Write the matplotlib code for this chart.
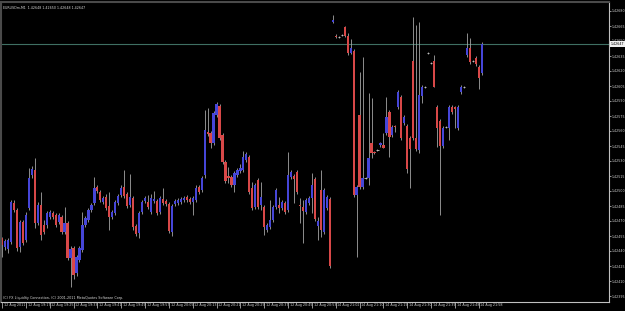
import numpy as np
import matplotlib
matplotlib.use("Agg")
import matplotlib.pyplot as plt
import matplotlib.transforms as mtransforms

# EURUSDm M1 bars, 12 Aug 19:09 -> 14 Aug
opens = [
    1.42453, 1.42444, 1.42442, 1.42449, 1.42488, 1.42481, 1.42444, 1.42469, 1.42451, 1.42483,
    1.42516, 1.42521, 1.42468, 1.42486, 1.42466, 1.42466, 1.42474, 1.42478, 1.42476, 1.42469,
    1.42474, 1.42459, 1.42468, 1.42433, 1.42443, 1.42418, 1.42431, 1.42441, 1.42466, 1.42471,
    1.42481, 1.42488, 1.42504, 1.42499, 1.42489, 1.42494, 1.42485, 1.42474, 1.42478, 1.42488,
    1.42496, 1.42504, 1.42497, 1.42486, 1.42493, 1.42465, 1.42458, 1.42479, 1.42490, 1.42489,
    1.42479, 1.42490, 1.42490, 1.42479, 1.42492, 1.42490, 1.42487, 1.42459, 1.42487, 1.42488,
    1.42489, 1.42491, 1.42494, 1.42492, 1.42489, 1.42491, 1.42504, 1.42501, 1.42516, 1.42559,
    1.42558, 1.42548, 1.42576, 1.42585, 1.42556, 1.42529, 1.42515, 1.42514, 1.42506, 1.42516,
    1.42520, 1.42521, 1.42531, 1.42534, 1.42503, 1.42484, 1.42511, 1.42486, 1.42484, 1.42461,
    1.42464, 1.42471, 1.42484, 1.42486, 1.42483, 1.42488, 1.42481, 1.42514, 1.42515, 1.42519,
    1.42486, 1.42484, 1.42479, 1.42488, 1.42493, 1.42512, 1.42465, 1.42501, 1.42459, 1.42483,
    1.42492, 1.42669, 1.42655, 1.42654, 1.42656, 1.42664, 1.42655, 1.42638, 1.42640, 1.42496,
    1.42576, 1.42504, 1.42513, 1.42513, 1.42548, 1.42539, 1.42541, 1.42546, 1.42546, 1.42558,
    1.42579, 1.42556, 1.42565, 1.42584, 1.42594, 1.42568, 1.42565, 1.42553, 1.42630, 1.42553,
    1.42541, 1.42595, 1.42604, 1.42638, 1.42628, 1.42630, 1.42584, 1.42570, 1.42545, 1.42564,
    1.42563, 1.42584, 1.42584, 1.42563, 1.42599, 1.42604, 1.42636, 1.42643, 1.42630, 1.42633,
    1.42624, 1.42618,
]
highs = [
    1.42454, 1.42452, 1.42453, 1.42491, 1.42491, 1.42483, 1.42471, 1.42471, 1.42479, 1.42523,
    1.42525, 1.42533, 1.42489, 1.42499, 1.42471, 1.42480, 1.42481, 1.42480, 1.42478, 1.42478,
    1.42476, 1.42484, 1.42470, 1.42445, 1.42445, 1.42436, 1.42445, 1.42479, 1.42475, 1.42483,
    1.42488, 1.42514, 1.42506, 1.42501, 1.42495, 1.42497, 1.42499, 1.42481, 1.42491, 1.42497,
    1.42506, 1.42521, 1.42499, 1.42517, 1.42495, 1.42467, 1.42480, 1.42491, 1.42495, 1.42496,
    1.42497, 1.42500, 1.42492, 1.42495, 1.42503, 1.42492, 1.42489, 1.42487, 1.42492, 1.42493,
    1.42494, 1.42495, 1.42496, 1.42494, 1.42495, 1.42506, 1.42506, 1.42515, 1.42581, 1.42583,
    1.42560, 1.42580, 1.42589, 1.42587, 1.42558, 1.42531, 1.42524, 1.42516, 1.42520, 1.42523,
    1.42527, 1.42540, 1.42539, 1.42536, 1.42509, 1.42508, 1.42513, 1.42509, 1.42486, 1.42468,
    1.42491, 1.42486, 1.42503, 1.42494, 1.42491, 1.42490, 1.42539, 1.42521, 1.42517, 1.42521,
    1.42493, 1.42491, 1.42493, 1.42495, 1.42518, 1.42514, 1.42474, 1.42521, 1.42503, 1.42496,
    1.42494, 1.42676, 1.42657, 1.42655, 1.42657, 1.42665, 1.42658, 1.42652, 1.42642, 1.42506,
    1.42619, 1.42634, 1.42514, 1.42598, 1.42593, 1.42540, 1.42542, 1.42549, 1.42558, 1.42594,
    1.42581, 1.42566, 1.42566, 1.42601, 1.42596, 1.42576, 1.42567, 1.42555, 1.42674, 1.42666,
    1.42669, 1.42606, 1.42605, 1.42639, 1.42629, 1.42636, 1.42586, 1.42572, 1.42565, 1.42565,
    1.42586, 1.42586, 1.42585, 1.42586, 1.42606, 1.42605, 1.42658, 1.42653, 1.42631, 1.42635,
    1.42626, 1.42649,
]
lows = [
    1.42434, 1.42441, 1.42438, 1.42447, 1.42479, 1.42440, 1.42439, 1.42446, 1.42449, 1.42481,
    1.42513, 1.42463, 1.42466, 1.42451, 1.42457, 1.42463, 1.42472, 1.42472, 1.42464, 1.42467,
    1.42457, 1.42457, 1.42431, 1.42404, 1.42412, 1.42415, 1.42429, 1.42439, 1.42464, 1.42469,
    1.42479, 1.42486, 1.42498, 1.42489, 1.42487, 1.42481, 1.42461, 1.42472, 1.42476, 1.42486,
    1.42494, 1.42493, 1.42483, 1.42484, 1.42461, 1.42455, 1.42453, 1.42477, 1.42488, 1.42482,
    1.42477, 1.42488, 1.42476, 1.42477, 1.42486, 1.42485, 1.42458, 1.42455, 1.42485, 1.42486,
    1.42487, 1.42489, 1.42489, 1.42487, 1.42476, 1.42489, 1.42497, 1.42499, 1.42513, 1.42555,
    1.42543, 1.42546, 1.42574, 1.42551, 1.42527, 1.42508, 1.42508, 1.42504, 1.42499, 1.42514,
    1.42518, 1.42519, 1.42529, 1.42497, 1.42481, 1.42482, 1.42482, 1.42481, 1.42456, 1.42459,
    1.42462, 1.42469, 1.42482, 1.42478, 1.42481, 1.42477, 1.42479, 1.42512, 1.42488, 1.42497,
    1.42468, 1.42448, 1.42477, 1.42486, 1.42478, 1.42470, 1.42451, 1.42454, 1.42457, 1.42481,
    1.42423, 1.42668, 1.42653, 1.42653, 1.42655, 1.42654, 1.42636, 1.42637, 1.42494, 1.42434,
    1.42502, 1.42502, 1.42512, 1.42506, 1.42533, 1.42537, 1.42540, 1.42544, 1.42543, 1.42556,
    1.42534, 1.42554, 1.42559, 1.42582, 1.42551, 1.42566, 1.42518, 1.42503, 1.42551, 1.42540,
    1.42538, 1.42588, 1.42603, 1.42637, 1.42627, 1.42604, 1.42544, 1.42476, 1.42543, 1.42563,
    1.42551, 1.42577, 1.42563, 1.42561, 1.42597, 1.42603, 1.42634, 1.42627, 1.42629, 1.42625,
    1.42602, 1.42616,
]
closes = [
    1.42446, 1.42450, 1.42451, 1.42489, 1.42481, 1.42443, 1.42469, 1.42448, 1.42476, 1.42513,
    1.42522, 1.42468, 1.42486, 1.42456, 1.42459, 1.42478, 1.42479, 1.42474, 1.42466, 1.42476,
    1.42459, 1.42468, 1.42433, 1.42442, 1.42416, 1.42434, 1.42443, 1.42466, 1.42473, 1.42481,
    1.42486, 1.42503, 1.42500, 1.42491, 1.42493, 1.42483, 1.42474, 1.42479, 1.42489, 1.42495,
    1.42503, 1.42495, 1.42485, 1.42494, 1.42464, 1.42457, 1.42478, 1.42489, 1.42493, 1.42484,
    1.42493, 1.42492, 1.42478, 1.42493, 1.42488, 1.42487, 1.42460, 1.42485, 1.42490, 1.42491,
    1.42492, 1.42493, 1.42491, 1.42489, 1.42493, 1.42503, 1.42499, 1.42513, 1.42561, 1.42557,
    1.42548, 1.42578, 1.42587, 1.42553, 1.42529, 1.42510, 1.42513, 1.42506, 1.42518, 1.42521,
    1.42523, 1.42534, 1.42537, 1.42499, 1.42483, 1.42506, 1.42484, 1.42494, 1.42464, 1.42466,
    1.42471, 1.42484, 1.42501, 1.42483, 1.42489, 1.42479, 1.42516, 1.42519, 1.42512, 1.42499,
    1.42485, 1.42480, 1.42491, 1.42493, 1.42506, 1.42472, 1.42470, 1.42461, 1.42501, 1.42494,
    1.42425, 1.42671, 1.42654, 1.42654, 1.42656, 1.42655, 1.42638, 1.42643, 1.42496, 1.42504,
    1.42504, 1.42513, 1.42513, 1.42533, 1.42538, 1.42538, 1.42541, 1.42548, 1.42543, 1.42574,
    1.42554, 1.42564, 1.42564, 1.42599, 1.42553, 1.42574, 1.42522, 1.42542, 1.42553, 1.42542,
    1.42596, 1.42604, 1.42604, 1.42638, 1.42628, 1.42604, 1.42563, 1.42545, 1.42563, 1.42564,
    1.42584, 1.42579, 1.42582, 1.42584, 1.42604, 1.42604, 1.42643, 1.42629, 1.42630, 1.42627,
    1.42613, 1.42647,
]

time_labels = ["12 Aug 2011", "12 Aug 19:17", "12 Aug 19:25", "12 Aug 19:33", "12 Aug 19:41",
               "12 Aug 19:49", "12 Aug 19:57", "12 Aug 20:05", "12 Aug 20:13", "12 Aug 20:21",
               "12 Aug 20:29", "12 Aug 20:37", "12 Aug 20:45", "12 Aug 20:53", "14 Aug 21:02",
               "14 Aug 21:10", "14 Aug 21:19", "14 Aug 21:30", "14 Aug 21:39", "14 Aug 21:48",
               "14 Aug 21:58"]
price_ticks = [1.42395, 1.42410, 1.42425, 1.42440, 1.42455, 1.42470, 1.42485, 1.42500,
               1.42515, 1.42530, 1.42545, 1.42560, 1.42575, 1.42590, 1.42605, 1.42620,
               1.42635, 1.42650, 1.42665, 1.42680]
last_price = 1.42647
header = "EURUSDm,M1  1.42648 1.42650 1.42648 1.42647"
footer = "(C) FX Liquidity Connection, (C) 2001-2011 MetaQuotes Software Corp."

o = np.array(opens)
h = np.array(highs)
l = np.array(lows)
c = np.array(closes)
x = np.arange(len(o))

fig = plt.figure(figsize=(6.25, 3.11), dpi=100, facecolor="black")
ax = fig.add_axes([1 / 625, 9 / 311, 608 / 625, 300 / 311], facecolor="black")

# wicks
ax.vlines(x, l, h, color="#a4a4a4", lw=0.6, zorder=1)

# bodies
up = c > o
dn = c < o
flat = c == o
ax.bar(x[up], c[up] - o[up], bottom=o[up], width=0.75, color="#4646d8", lw=0, zorder=2)
ax.bar(x[dn], o[dn] - c[dn], bottom=c[dn], width=0.75, color="#d84848", lw=0, zorder=2)
ax.hlines(o[flat], x[flat] - 0.4, x[flat] + 0.4, color="#c8c8c8", lw=0.6, zorder=2)

# current price line
ax.axhline(last_price, color="#3f6f63", lw=0.8, zorder=0)

ax.set_xlim(-0.34, 203.7)
ax.set_ylim(1.42389, 1.42689)

ax.yaxis.tick_right()
ax.set_yticks(price_ticks)
ax.set_yticklabels(["%.5f" % p for p in price_ticks])
ax.tick_params(axis="y", colors="#d0d0d0", labelsize=2.3, length=1.5, width=0.5, pad=0.6)

ax.set_xticks(np.arange(len(time_labels)) * 8)
ax.set_xticklabels(time_labels, ha="left")
ax.tick_params(axis="x", colors="#d0d0d0", labelsize=2.4, length=4, width=0.5, pad=-3.2)
offset = mtransforms.ScaledTranslation(1.2 / 72, 0, fig.dpi_scale_trans)
for lbl in ax.get_xticklabels():
    lbl.set_transform(lbl.get_transform() + offset)

for side in ["bottom", "right"]:
    ax.spines[side].set_color("#c0c0c0")
    ax.spines[side].set_linewidth(0.8)
for side in ["top", "left"]:
    ax.spines[side].set_color("#4a4a4a")
    ax.spines[side].set_linewidth(1.5)

# price box on the right axis
ax.text(1.003, last_price, "%.5f" % last_price, transform=ax.get_yaxis_transform(),
        fontsize=2.3, color="black", va="center", ha="left", clip_on=False, zorder=10,
        bbox=dict(boxstyle="square,pad=0.3", facecolor="#f0f0f0", edgecolor="none"))

ax.text(0.003, 0.988, header, transform=ax.transAxes, fontsize=2.3, color="#d8d8d8",
        va="top", ha="left")
ax.text(0.003, 0.006, footer, transform=ax.transAxes, fontsize=2.4, color="#d8d8d8",
        va="bottom", ha="left")

fig.savefig("out.png", dpi=100, facecolor="black")
